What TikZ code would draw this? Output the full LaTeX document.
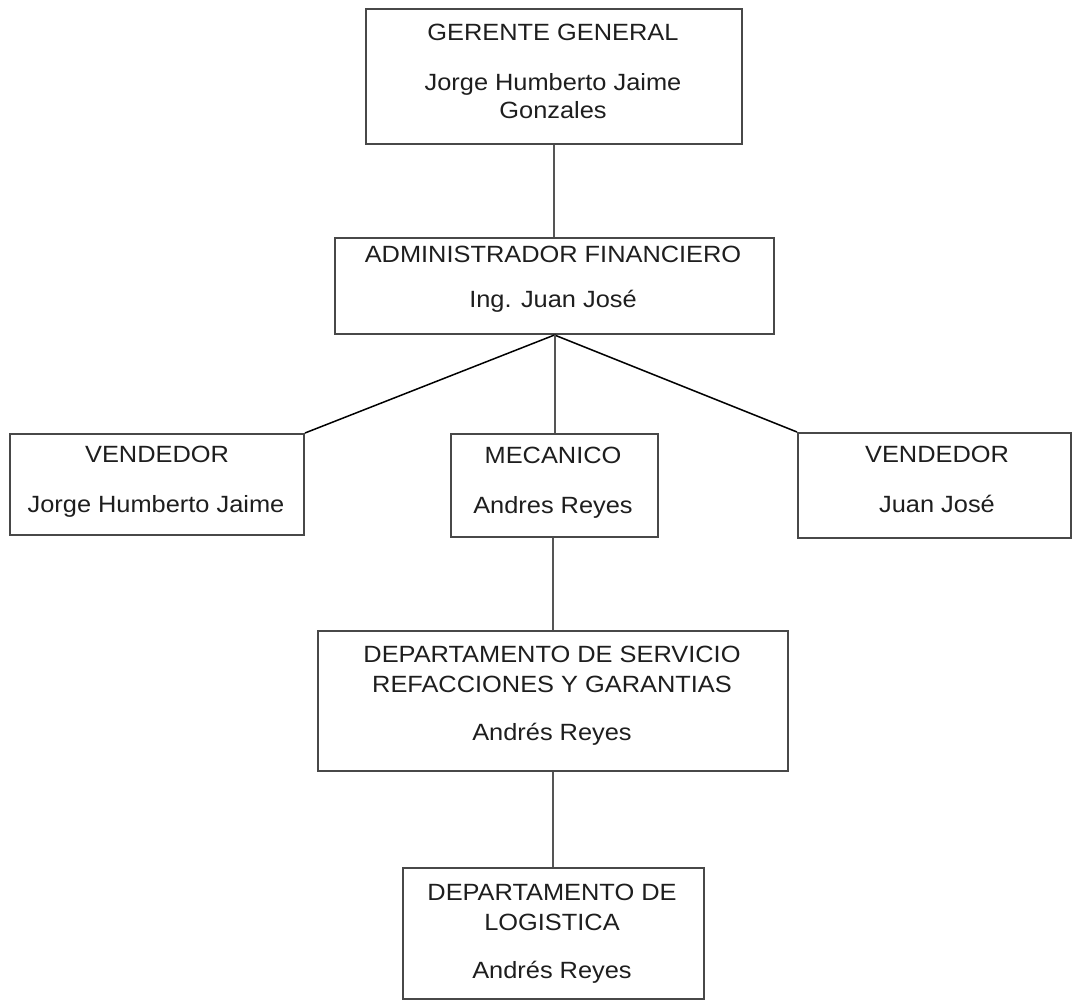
\documentclass[tikz,border=0pt]{standalone}
\usepackage{fontspec}
\setmainfont{Liberation Sans}[FakeStretch=1.08]
\definecolor{boxgray}{HTML}{484848}
\definecolor{linegray}{HTML}{555555}
\definecolor{txtgray}{HTML}{1E1E1E}
\begin{document}
\begin{tikzpicture}[x=1pt,y=-1pt,
  box/.style={draw=boxgray,line width=2pt,inner sep=0pt,anchor=north west,fill=white},
  txt/.style={anchor=base,text=txtgray,inner sep=0pt,font=\fontsize{23.5}{28}\selectfont},
  conn/.style={draw=linegray,line width=2pt},
  diag/.style={draw=black,line width=1.5pt}]
\useasboundingbox[fill=white] (0,0) rectangle (1072,1000);

% boxes
\node[box,minimum width=376pt,minimum height=135pt] (g) at (365,8) {};
\node[box,minimum width=439pt,minimum height=96pt] (a) at (334,237) {};
\node[box,minimum width=294pt,minimum height=101pt] (v1) at (9,433) {};
\node[box,minimum width=207pt,minimum height=103pt] (m) at (450,433) {};
\node[box,minimum width=273pt,minimum height=105pt] (v2) at (797,432) {};
\node[box,minimum width=470pt,minimum height=140pt] (s) at (317,630) {};
\node[box,minimum width=301pt,minimum height=131pt] (l) at (402,867) {};

% connectors
\coordinate (ap) at (a.south);
\draw[conn] (g.south) -- (g.south |- a.north);
\draw[diag] (ap) -- (v1.north east);
\draw[diag] (ap) -- (v2.north west);
\draw[conn] (ap) -- (ap |- m.north);
\draw[conn] (m.south -| s.north) -- (s.north);
\draw[conn] (s.south) -- (s.south |- l.north);

% texts
\node[txt] (g1) at (553,41) {GERENTE GENERAL};
\node[txt] (g2) at (553,91) {Jorge Humberto Jaime};
\node[txt] (g3) at (553,119) {Gonzales};

\node[txt] (a1) at (553,263) {ADMINISTRADOR FINANCIERO};
\node[txt] (a2) at (553,308) {Ing. Juan José};

\node[txt] (v11) at (157,463) {VENDEDOR};
\node[txt] (v12) at (156,512) {Jorge Humberto Jaime};

\node[txt] (m1) at (553,464) {MECANICO};
\node[txt] (m2) at (553,514) {Andres Reyes};

\node[txt] (v21) at (937,463) {VENDEDOR};
\node[txt] (v22) at (937,512) {Juan José};

\node[txt] (s1) at (552,662) {DEPARTAMENTO DE SERVICIO};
\node[txt] (s2) at (552,692) {REFACCIONES Y GARANTIAS};
\node[txt] (s3) at (552,740) {Andrés Reyes};

\node[txt] (l1) at (552,900) {DEPARTAMENTO DE};
\node[txt] (l2) at (552,930) {LOGISTICA};
\node[txt] (l3) at (552,978) {Andrés Reyes};
\end{tikzpicture}
\end{document}
